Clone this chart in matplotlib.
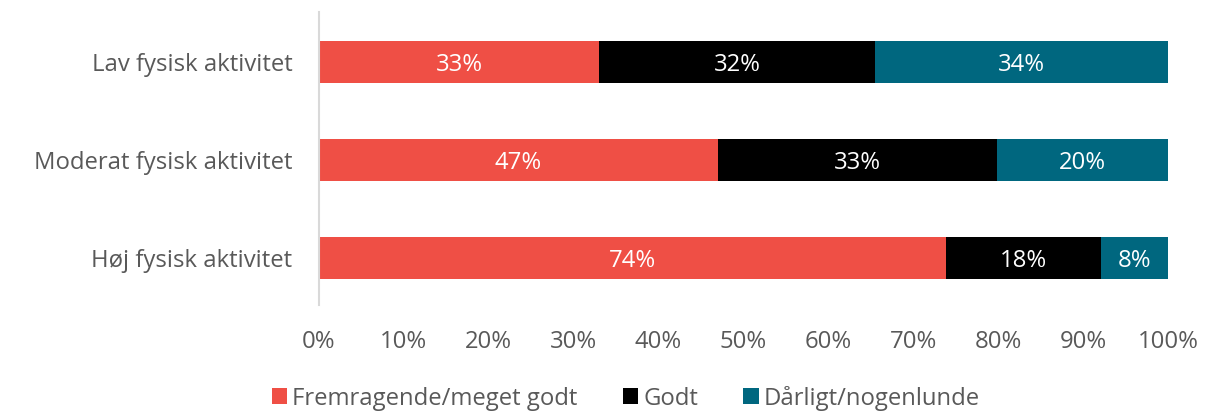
import matplotlib.pyplot as plt
import numpy as np

# Data (andel i prosent, lest av figuren)
categories = ['Lav fysisk aktivitet', 'Moderat fysisk aktivitet', 'Høj fysisk aktivitet']
series_names = ['Fremragende/meget godt', 'Godt', 'Dårligt/nogenlunde']
fremragende = [32.9, 47.0, 73.9]
godt = [32.4, 32.9, 18.2]
daarligt = [34.4, 20.1, 7.9]
tick_labels = ['0%', '10%', '20%', '30%', '40%', '50%', '60%', '70%', '80%', '90%', '100%']

colors = ['#EF4F45', '#000000', '#00677F']
text_color = '#595959'
fs = 17.2

plt.rcParams['font.family'] = ['Open Sans', 'DejaVu Sans']

fig = plt.figure(figsize=(12.27, 4.11), dpi=100)
ax = fig.add_axes([319 / 1227, 106 / 411, 849 / 1227, 293 / 411])

raw = np.array([fremragende, godt, daarligt])
share = raw / raw.sum(axis=0) * 100
ypos = np.arange(len(categories))[::-1]

left = np.zeros(len(categories))
for i, name in enumerate(series_names):
    ax.barh(ypos, share[i], left=left, height=0.42, color=colors[i],
            label=name, edgecolor='none')
    for y, l, w, v in zip(ypos, left, share[i], raw[i]):
        ax.text(l + w / 2, y, f'{v:.0f}%', ha='center', va='center_baseline',
                color='white', fontsize=fs)
    left += share[i]

ax.set_xlim(0, 100)
ax.set_ylim(-0.48, 2.51)
ax.set_xticks(np.arange(0, 101, 10))
ax.set_xticklabels(tick_labels)
ax.set_yticks(ypos)
ax.set_yticklabels(categories)
ax.tick_params(axis='both', length=0, labelsize=fs, colors=text_color)
ax.tick_params(axis='x', pad=18)
ax.tick_params(axis='y', pad=19)

for s in ['top', 'right', 'bottom']:
    ax.spines[s].set_visible(False)
ax.spines['left'].set_color('#D9D9D9')
ax.spines['left'].set_linewidth(1.5)

leg = fig.legend(loc='center', bbox_to_anchor=(0.51, 13 / 411), ncol=3,
                 frameon=False, fontsize=fs, handlelength=0.65, handleheight=0.65,
                 handletextpad=0.2, columnspacing=1.9)
for t in leg.get_texts():
    t.set_color(text_color)

fig.savefig('out.png', dpi=100)
